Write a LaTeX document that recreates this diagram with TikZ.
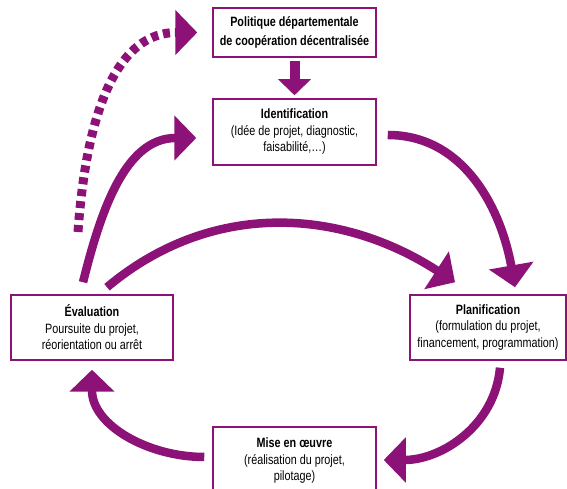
\documentclass[tikz,border=0pt]{standalone}
\usepackage{fontspec}
\setmainfont{Liberation Sans}[FakeStretch=0.8]
\usetikzlibrary{arrows.meta}
\definecolor{pcol}{RGB}{140,18,120}
\tikzset{every picture/.style={x=1pt,y=1pt}}
\tikzset{box/.style={draw=pcol,line width=1.5pt,align=center,inner sep=0pt,text=black,font=\fontsize{13.5}{16.5}\selectfont}}
\tikzset{edge/.style={pcol,line width=8.5pt,-{Triangle[width=44pt,length=22pt]}}}
\tikzset{dashedge/.style={edge,line width=9pt,dash pattern=on 7pt off 5pt}}
\tikzset{drop/.style={pcol,line width=10pt,-{Triangle[width=32pt,length=16pt]}}}

\begin{document}
\begin{tikzpicture}
\useasboundingbox (0,0) rectangle (567,489);
\clip (0,0) rectangle (567,489);

\node [box,minimum width=163,minimum height=49,font=\fontsize{13.5}{19}\selectfont] (pol) at (294.5,456.5)
  {\textbf{Politique départementale}\\\textbf{de coopération décentralisée}};
\node [box,minimum width=163,minimum height=66] (ident) at (294.5,357)
  {\textbf{Identification}\\(Idée de projet, diagnostic,\\faisabilité,…)};
\node [box,minimum width=162,minimum height=65] (eval) at (92,161.5)
  {\textbf{Évaluation}\\Poursuite du projet,\\réorientation ou arrêt};
\node [box,minimum width=156,minimum height=65] (plan) at (488,161.5)
  {\textbf{Planification}\\(formulation du projet,\\financement, programmation)};
\node [box,minimum width=163,minimum height=68] (mise) at (294.5,28)
  {\textbf{Mise en œuvre}\\(réalisation du projet,\\pilotage)};

\coordinate (dstart) at (78,257);

\draw [drop] ([yshift=-3pt]pol.south) -- ([yshift=3pt]ident.north);
\draw [dashedge] (dstart) to[out=86,in=180] ([xshift=-15pt]pol.west);
\draw [edge] ([xshift=-9pt,yshift=12pt]eval.north) to[out=76,in=180] ([xshift=-16pt,yshift=-6pt]ident.west);
\draw [edge] ([xshift=11pt,yshift=-3pt]ident.east) to[out=0,in=100] ([xshift=27pt,yshift=7pt]plan.north);
\draw [edge] ([xshift=15pt,yshift=7pt]eval.north) to[out=40,in=147] ([xshift=-33pt,yshift=12pt]plan.north);
\draw [edge] ([xshift=12pt,yshift=-7pt]plan.south) to[out=-95,in=0] ([xshift=7pt,yshift=1pt]mise.east);
\draw [edge] ([xshift=-8pt,yshift=4pt]mise.west) to[out=180,in=-90] ([yshift=-9pt]eval.south);
\end{tikzpicture}
\end{document}
